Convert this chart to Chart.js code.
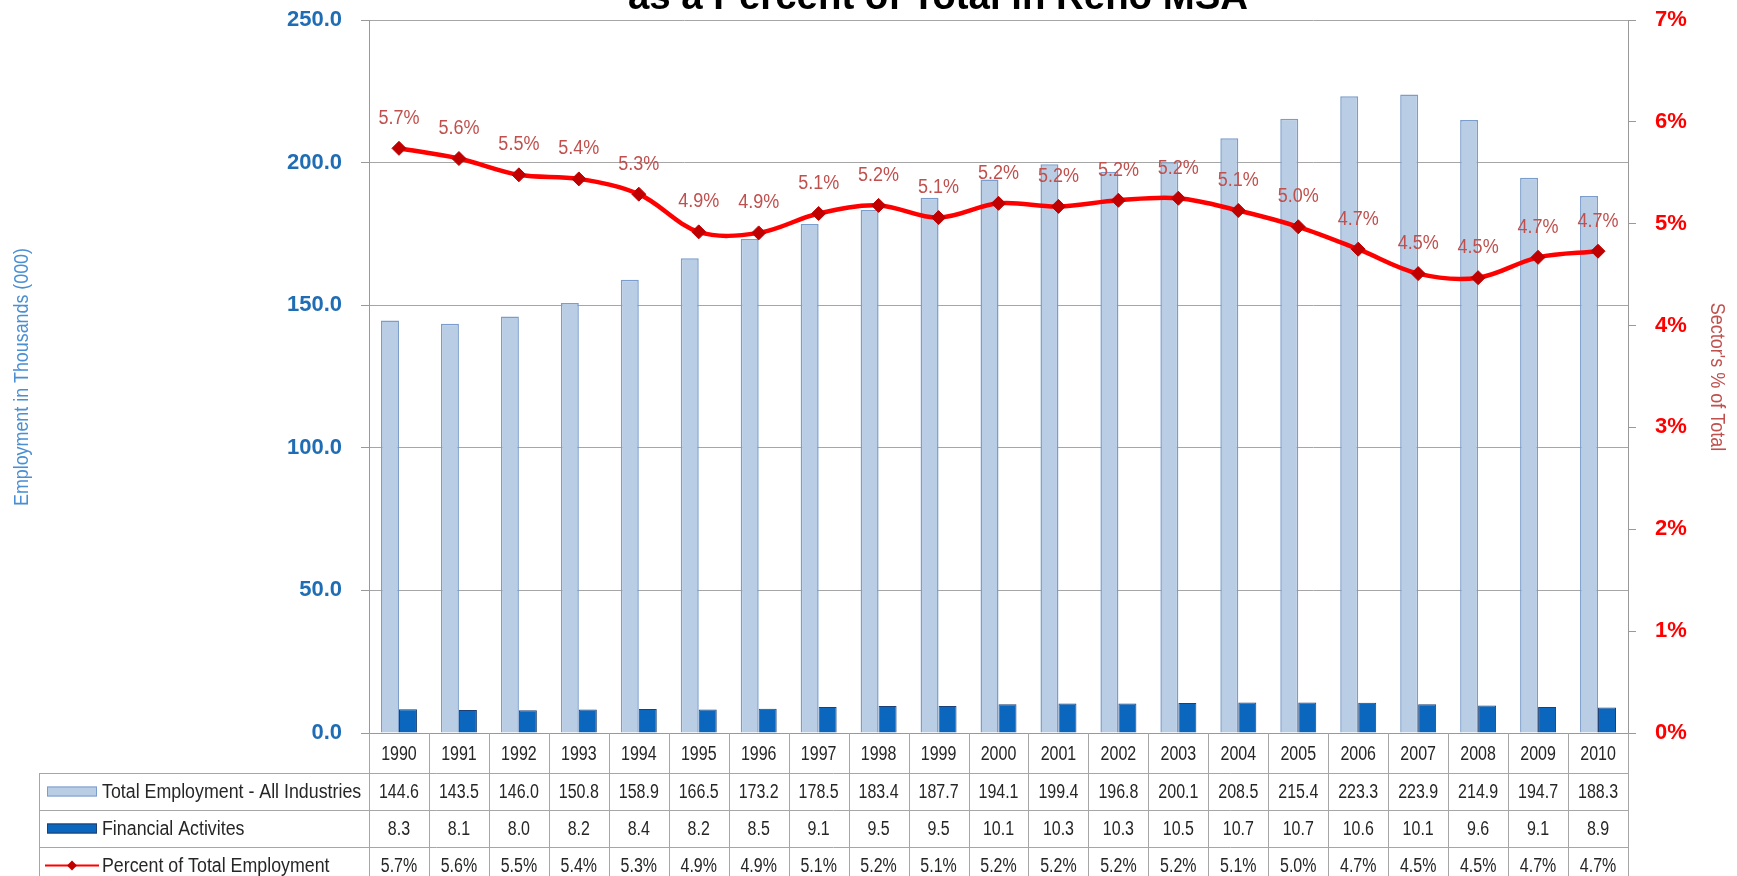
<!DOCTYPE html>
<html><head><meta charset="utf-8">
<script src="https://cdn.jsdelivr.net/npm/chart.js@4.4.0/dist/chart.umd.min.js"></script>
<style>html,body{margin:0;padding:0;background:#fff;overflow:hidden}#wrap{position:relative;width:1737px;height:876px}</style>
</head><body><div id="wrap"><canvas id="c" width="1737" height="876"></canvas></div>
<script>
const years = ['1990','1991','1992','1993','1994','1995','1996','1997','1998','1999','2000','2001','2002','2003','2004','2005','2006','2007','2008','2009','2010'];
const totalEmployment = [144.6,143.5,146.0,150.8,158.9,166.5,173.2,178.5,183.4,187.7,194.1,199.4,196.8,200.1,208.5,215.4,223.3,223.9,214.9,194.7,188.3];
const financialActivities = [8.3,8.1,8.0,8.2,8.4,8.2,8.5,9.1,9.5,9.5,10.1,10.3,10.3,10.5,10.7,10.7,10.6,10.1,9.6,9.1,8.9];
const percentOfTotal = [5.74,5.64,5.48,5.44,5.29,4.92,4.91,5.10,5.18,5.06,5.20,5.17,5.23,5.25,5.13,4.97,4.75,4.51,4.47,4.67,4.73];
const percentLabels = ['5.7%','5.6%','5.5%','5.4%','5.3%','4.9%','4.9%','5.1%','5.2%','5.1%','5.2%','5.2%','5.2%','5.2%','5.1%','5.0%','4.7%','4.5%','4.5%','4.7%','4.7%'];
const seriesNames = ['Total Employment - All Industries','Financial Activites','Percent of Total Employment'];
const titleText = 'as a Percent of Total in Reno MSA';
const leftAxisTitle = 'Employment in Thousands (000)';
const rightAxisTitle = "Sector's % of Total";

const SANS = '"Liberation Sans",Arial,sans-serif';
const C_LIGHT = '#B9CDE5', C_LIGHT_B = '#7B9DCB';
const C_DARK = '#0B67BE', C_DARK_B = '#1D3F73';
const C_LINE = '#FF0000', C_PT = '#C00000';
const C_GRID = '#A6A6A6';

const ROWS = [733, 773, 810, 847, 884];
const TABLE_LEFT = 39;

function narrowText(ctx, text, x, y, sx) {
  ctx.save();
  ctx.translate(x, y);
  ctx.scale(sx, 1);
  ctx.fillText(text, 0, 0);
  ctx.restore();
}

const extras = {
  id: 'extras',
  afterDatasetsDraw(chart) {
    const ctx = chart.ctx;
    const meta = chart.getDatasetMeta(0);
    ctx.save();
    ctx.fillStyle = '#C0504D';
    ctx.font = '20px ' + SANS;
    ctx.textAlign = 'center';
    ctx.textBaseline = 'middle';
    meta.data.forEach((p, i) => {
      narrowText(ctx, percentLabels[i], p.x, p.y - 30, 0.9);
    });
    ctx.restore();
  },
  afterDraw(chart) {
    const ctx = chart.ctx;
    const a = chart.chartArea;
    const xs = chart.scales.x;
    const n = years.length;
    const w = (a.right - a.left) / n;
    ctx.save();
    // title (cropped at top)
    ctx.fillStyle = '#000';
    ctx.font = 'bold 30px ' + SANS;
    const tw = ctx.measureText(titleText).width;
    const fs = 30 * 620 / tw;
    ctx.font = 'bold ' + fs.toFixed(1) + 'px ' + SANS;
    ctx.textAlign = 'center';
    ctx.textBaseline = 'alphabetic';
    ctx.fillText(titleText, 938, 9);

    // axis titles
    ctx.font = '21px ' + SANS;
    ctx.fillStyle = '#4A8FD4';
    ctx.save();
    ctx.translate(22, 377);
    ctx.rotate(-Math.PI / 2);
    ctx.textAlign = 'center'; ctx.textBaseline = 'middle';
    narrowText(ctx, leftAxisTitle, 0, 0, 0.85);
    ctx.restore();
    ctx.font = '20px ' + SANS;
    ctx.fillStyle = '#C0504D';
    ctx.save();
    ctx.translate(1717, 377);
    ctx.rotate(Math.PI / 2);
    ctx.textAlign = 'center'; ctx.textBaseline = 'middle';
    narrowText(ctx, rightAxisTitle, 0, 0, 0.9);
    ctx.restore();

    // table grid
    ctx.strokeStyle = C_GRID;
    ctx.lineWidth = 1;
    ctx.beginPath();
    for (let k = 0; k <= n; k++) {
      const x = Math.round(a.left + k * w) + 0.5;
      ctx.moveTo(x, ROWS[0]); ctx.lineTo(x, ROWS[4]);
    }
    for (let r = 1; r < ROWS.length; r++) {
      ctx.moveTo(TABLE_LEFT, ROWS[r] + 0.5); ctx.lineTo(a.right, ROWS[r] + 0.5);
    }
    ctx.moveTo(TABLE_LEFT + 0.5, ROWS[1]); ctx.lineTo(TABLE_LEFT + 0.5, ROWS[4]);
    ctx.stroke();

    // table text
    ctx.fillStyle = '#262626';
    ctx.font = '20px ' + SANS;
    ctx.textAlign = 'center';
    ctx.textBaseline = 'middle';
    const SX = 0.8;
    for (let i = 0; i < n; i++) {
      const cx = xs.getPixelForValue(i);
      narrowText(ctx, years[i], cx, (ROWS[0] + ROWS[1]) / 2 + 1, SX);
      narrowText(ctx, totalEmployment[i].toFixed(1), cx, (ROWS[1] + ROWS[2]) / 2 + 1, SX);
      narrowText(ctx, financialActivities[i].toFixed(1), cx, (ROWS[2] + ROWS[3]) / 2 + 1, SX);
      narrowText(ctx, percentLabels[i], cx, (ROWS[3] + ROWS[4]) / 2 + 1, SX);
    }
    // legend keys + names
    ctx.textAlign = 'left';
    const ky = [(ROWS[1] + ROWS[2]) / 2, (ROWS[2] + ROWS[3]) / 2, (ROWS[3] + ROWS[4]) / 2];
    ctx.fillStyle = C_LIGHT; ctx.strokeStyle = C_LIGHT_B;
    ctx.fillRect(47, ky[0] - 5, 50, 10); ctx.strokeRect(47.5, ky[0] - 4.5, 49, 9);
    ctx.fillStyle = C_DARK; ctx.strokeStyle = C_DARK_B;
    ctx.fillRect(47, ky[1] - 5, 50, 10); ctx.strokeRect(47.5, ky[1] - 4.5, 49, 9);
    ctx.strokeStyle = C_LINE; ctx.lineWidth = 2;
    ctx.beginPath(); ctx.moveTo(45, ky[2]); ctx.lineTo(99, ky[2]); ctx.stroke();
    ctx.fillStyle = C_PT;
    ctx.beginPath(); ctx.moveTo(72, ky[2] - 5); ctx.lineTo(77, ky[2]); ctx.lineTo(72, ky[2] + 5); ctx.lineTo(67, ky[2]); ctx.closePath(); ctx.fill();
    ctx.fillStyle = '#262626';
    for (let r = 0; r < 3; r++) narrowText(ctx, seriesNames[r], 102, ky[r] + 1, 0.89);
    ctx.restore();
  }
};

function noVPad(s) { s.paddingTop = 0; s.paddingBottom = 0; }

new Chart(document.getElementById('c'), {
  type: 'bar',
  data: {
    labels: years,
    datasets: [
      { type: 'line', label: seriesNames[2], data: percentOfTotal, yAxisID: 'y1', borderColor: C_LINE, borderWidth: 4.5, tension: 0.35,
        pointStyle: 'rectRot', pointRadius: 7, pointBackgroundColor: C_PT, pointBorderColor: C_PT, pointBorderWidth: 1, order: 0 },
      { label: seriesNames[0], data: totalEmployment, yAxisID: 'y', backgroundColor: C_LIGHT, borderColor: C_LIGHT_B, borderWidth: 1.5,
        categoryPercentage: 0.6, barPercentage: 1.0, order: 1 },
      { label: seriesNames[1], data: financialActivities, yAxisID: 'y', backgroundColor: C_DARK, borderColor: C_DARK_B, borderWidth: 1,
        categoryPercentage: 0.6, barPercentage: 1.0, order: 1 }
    ]
  },
  options: {
    responsive: false, animation: false, devicePixelRatio: 1,
    layout: { padding: { top: 20, left: 0, right: 0, bottom: 0 } },
    plugins: { legend: { display: false }, tooltip: { enabled: false }, title: { display: false } },
    scales: {
      x: { ticks: { display: false }, grid: { display: false, drawTicks: false }, border: { display: true, color: '#999' },
           afterFit(s) { s.height = 143; } },
      y: { position: 'left', min: 0, max: 250,
           ticks: { stepSize: 50, callback: v => Number(v).toFixed(1), color: '#1F6DB5', font: { family: SANS, size: 22, weight: 'bold' }, padding: 19 },
           grid: { color: C_GRID, tickLength: 8, tickColor: '#999' }, border: { color: '#999' },
           afterFit(s) { s.width = 369; noVPad(s); } },
      y1: { position: 'right', min: 0, max: 7,
           ticks: { stepSize: 1, callback: v => v + '%', color: '#FF0000', font: { family: SANS, size: 22, weight: 'bold' }, padding: 19 },
           grid: { drawOnChartArea: false, tickLength: 8, color: '#999' }, border: { color: '#999' },
           afterFit(s) { s.width = 109; noVPad(s); } }
    }
  },
  plugins: [extras]
});
</script>
</body></html>
